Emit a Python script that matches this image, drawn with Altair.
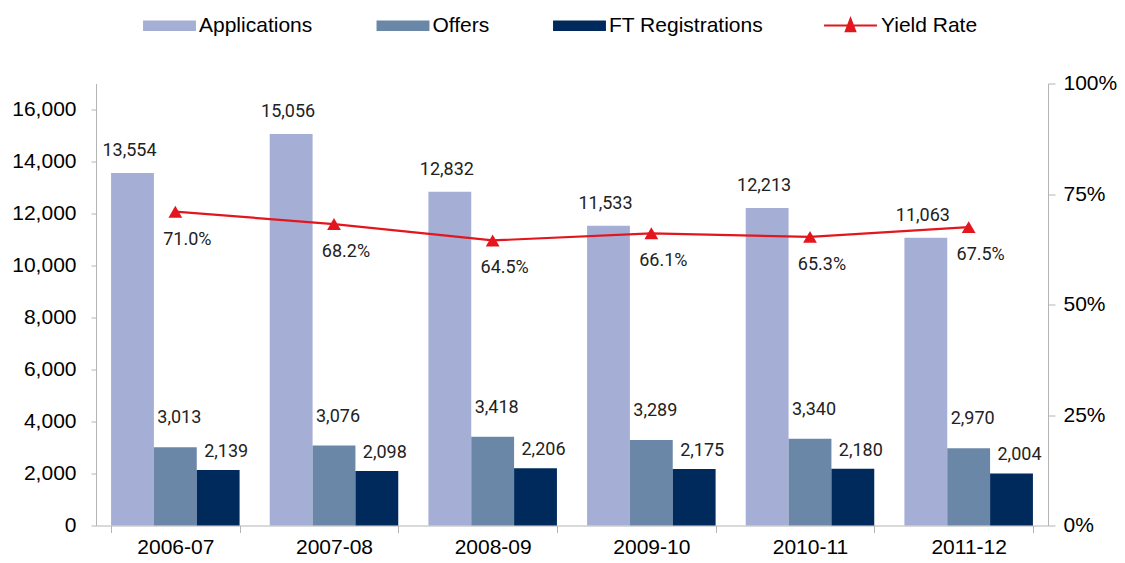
import altair as alt
import pandas as pd

years = ["2006-07", "2007-08", "2008-09", "2009-10", "2010-11", "2011-12"]
applications = [13554, 15056, 12832, 11533, 12213, 11063]
offers = [3013, 3076, 3418, 3289, 3340, 2970]
ft_registrations = [2139, 2098, 2206, 2175, 2180, 2004]
yield_rate = [0.710, 0.682, 0.645, 0.661, 0.653, 0.675]

series_names = ["Applications", "Offers", "FT Registrations"]
series_colors = ["#a5aed5", "#6b87a8", "#002a5c"]
line_name = "Yield Rate"
line_color = "#e3161e"

rows = []
for i, y in enumerate(years):
    for s, vals in zip(series_names, [applications, offers, ft_registrations]):
        rows.append({"year": y, "series": s, "value": vals[i]})
bars_df = pd.DataFrame(rows)
line_df = pd.DataFrame({"year": years, "yield": yield_rate, "name": [line_name] * len(years)})

AXIS_FONT = "Liberation Sans"
LABEL_FONT = "Roboto"
GREY = "#b4b4b4"
AX_FS = 21

x_enc = alt.X(
    "year:N",
    sort=years,
    scale=alt.Scale(paddingInner=0.19, paddingOuter=0.095),
    axis=alt.Axis(
        title=None, labelAngle=0, labelFont=AXIS_FONT, labelFontSize=AX_FS,
        labelColor="#000", domainColor=GREY, tickColor=GREY, tickSize=7,
        tickBand="extent", labelPadding=4,
    ),
)
xoff = alt.XOffset("series:N", sort=series_names, scale=alt.Scale(paddingInner=0, paddingOuter=0))

y_left = alt.Scale(domain=[0, 17000], nice=False)
y_right = alt.Scale(domain=[0, 1], nice=False)

bars = alt.Chart(bars_df).mark_bar().encode(
    x=x_enc,
    xOffset=xoff,
    y=alt.Y("value:Q", scale=y_left, axis=alt.Axis(
        title=None, values=list(range(0, 16001, 2000)), format=",d",
        labelFont=AXIS_FONT, labelFontSize=AX_FS, labelColor="#000",
        domainColor=GREY, tickColor=GREY, tickSize=5, grid=False, labelPadding=15)),
    color=alt.Color("series:N", sort=series_names,
                    scale=alt.Scale(domain=series_names, range=series_colors),
                    legend=alt.Legend(
                        title=None, orient="none", direction="horizontal",
                        legendX=63, legendY=-68.5, padding=0,
                        symbolType="M-5,-1L5,-1L5,1L-5,1Z", symbolSize=112,
                        symbolStrokeWidth=0, labelFont=AXIS_FONT, labelFontSize=AX_FS,
                        labelColor="#000", labelOffset=19, columnPadding=63.5)),
)

label_cfg = dict(fontSize=18, font=LABEL_FONT, color="#222", baseline="middle", align="center")

def bar_labels(name, dx, dy):
    return alt.Chart(bars_df).transform_filter(alt.datum.series == name).mark_text(
        dx=dx, dy=dy, **label_cfg
    ).encode(
        x=alt.X("year:N", sort=years),
        xOffset=xoff,
        y=alt.Y("value:Q", scale=y_left, axis=None),
        text=alt.Text("value:Q", format=",d"),
    )

line = alt.Chart(line_df).mark_line(strokeWidth=2.2).encode(
    x=alt.X("year:N", sort=years),
    y=alt.Y("yield:Q", scale=y_right, axis=alt.Axis(
        orient="right", title=None, values=[0, 0.25, 0.5, 0.75, 1], format=".0%",
        labelFont=AXIS_FONT, labelFontSize=AX_FS, labelColor="#000",
        domainColor=GREY, tickColor=GREY, tickSize=7, grid=False, labelPadding=8)),
    color=alt.Color("name:N", scale=alt.Scale(domain=[line_name], range=[line_color]),
                    legend=alt.Legend(
                        title=None, orient="none", direction="horizontal",
                        legendX=744, legendY=-68.5, padding=0,
                        symbolType="M-5,0L5,0M-0.9,1.1L0,-1.25L0.9,1.1Z",
                        symbolSize=112, symbolStrokeWidth=2,
                        symbolFillColor=line_color,
                        labelFont=AXIS_FONT, labelFontSize=AX_FS,
                        labelColor="#000", labelOffset=20)),
)

points = alt.Chart(line_df).mark_point(
    shape="triangle-up", filled=True, size=190, color=line_color, opacity=1
).encode(
    x=alt.X("year:N", sort=years),
    y=alt.Y("yield:Q", scale=y_right, axis=None),
)

yield_labels = alt.Chart(line_df).mark_text(dx=12, dy=28, **label_cfg).encode(
    x=alt.X("year:N", sort=years),
    y=alt.Y("yield:Q", scale=y_right, axis=None),
    text=alt.Text("yield:Q", format=".1%"),
)

chart = alt.layer(
    bars,
    bar_labels("Applications", -3, -22),
    bar_labels("Offers", 4, -29),
    bar_labels("FT Registrations", 8, -18),
    line, points, yield_labels,
).resolve_scale(
    y="independent", color="independent"
).properties(
    width=952, height=442, padding={"left": 3, "top": 6.5, "right": 0, "bottom": 0}
).configure_view(stroke=None)

chart.save("out.html", embed_options={"renderer": "svg", "actions": False})
